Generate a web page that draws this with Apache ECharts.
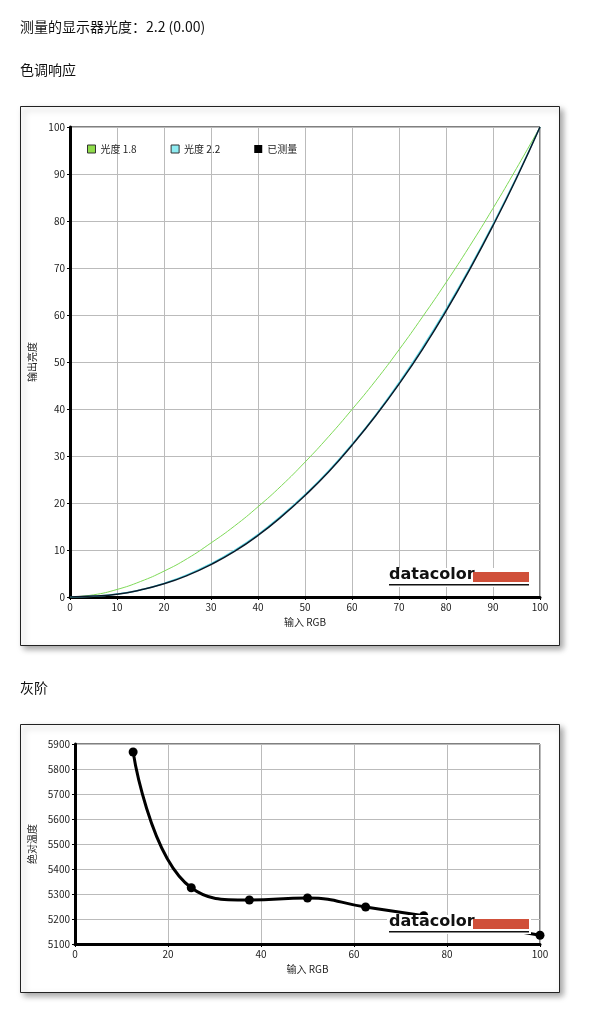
<!DOCTYPE html>
<html><head><meta charset="utf-8">
<script src="https://cdn.jsdelivr.net/npm/echarts@6/dist/echarts.min.js"></script>
<style>
body{margin:0;background:#fff;font-family:"Noto Sans CJK SC",sans-serif;}
#main{position:absolute;left:0;top:0;width:594px;height:1017px;}
</style></head><body>
<div id="main"></div>
<script>
// 色调响应 数据 (输入 RGB 0..100 步长 5)
const inputRGB = [0,5,10,15,20,25,30,35,40,45,50,55,60,65,70,75,80,85,90,95,100]
const gamma18 = [0,0.46,1.6,3.3,5.5,8.2,11.5,15.1,19.2,23.7,28.7,34.1,39.9,46.0,52.6,59.6,66.9,74.6,82.7,91.2,100]
const gamma22 = [0,0.14,0.63,1.5,2.9,4.75,7.1,9.9,13.3,17.3,21.8,26.8,32.5,38.7,45.6,53.1,61.2,69.9,79.3,89.3,100]
const measured = [0,0.2,0.6,1.5,2.8,4.6,6.9,9.7,13.1,17.1,21.6,26.6,32.3,38.5,45.3,52.7,60.8,69.6,79.0,89.1,100]
// 灰阶 数据
const grayRGB = [12.5,25,37.5,50,62.5,75,87.5,100]
const grayTemp = [5868,5325,5276,5284,5248,5213,5175,5135]

const zip = (xs, ys) => xs.map((x, i) => [x, ys[i]])
const txt = '#222'
const fontFam = '"Noto Sans CJK SC", sans-serif'

const logo = (x, y) => [
	{type:'rect', left:x-2, top:y+1, shape:{width:144, height:19}, style:{fill:'#fff'}, z:10},
	{type:'text', left:x, top:y, style:{text:'datacolor', font:'bold 16px "DejaVu Sans", sans-serif', fill:'#111'}, z:11},
	{type:'rect', left:x+84, top:y+5, shape:{width:56, height:10}, style:{fill:'#d0503a'}, z:11},
	{type:'rect', left:x, top:y+17, shape:{width:140, height:1.5}, style:{fill:'#111'}, z:11}
]

const panel = (x, y, w, h) => ({
	type:'rect', left:x, top:y, shape:{width:w, height:h},
	style:{fill:'#fff', stroke:'#222', lineWidth:1, shadowBlur:6, shadowOffsetX:3, shadowOffsetY:3, shadowColor:'rgba(0,0,0,0.35)'}, z:-1
})

const xAxisBase = (gi, step) => ({
	type:'value', gridIndex:gi, min:0, max:100, interval:step,
	axisLine:{onZero:false, lineStyle:{color:'#000', width:3}},
	axisTick:{show:true, length:3, lineStyle:{color:'#000'}},
	axisLabel:{color:txt, fontSize:10, fontFamily:fontFam, margin:5},
	splitLine:{lineStyle:{color:'#bbb'}},
	name:'输入 RGB', nameLocation:'middle', nameGap:20,
	nameTextStyle:{color:txt, fontSize:10, fontFamily:fontFam}
})

const chart = echarts.init(document.getElementById('main'))
chart.setOption({
	animation:false,
	graphic:[
		{type:'text', left:20, top:20, style:{text:'测量的显示器光度：2.2 (0.00)', font:'14px '+fontFam, fill:'#111'}},
		{type:'text', left:20, top:63, style:{text:'色调响应', font:'14px '+fontFam, fill:'#111'}},
		{type:'text', left:20, top:681, style:{text:'灰阶', font:'14px '+fontFam, fill:'#111'}},
		panel(20, 106, 539, 539),
		panel(20, 724, 539, 268),
		...logo(389, 567),
		...logo(389, 914)
	],
	legend:{
		left:82, top:139, itemWidth:8, itemHeight:8, itemGap:34, icon:'rect',
		textStyle:{color:txt, fontSize:10, fontFamily:fontFam},
		data:[
			{name:'光度 1.8', itemStyle:{color:'#8fdc4a', borderColor:'#333', borderWidth:1}},
			{name:'光度 2.2', itemStyle:{color:'#8eecf2', borderColor:'#333', borderWidth:1}},
			{name:'已测量', itemStyle:{color:'#000'}}
		]
	},
	grid:[
		{left:70, top:127, width:470, height:470, show:true, borderColor:'#000', borderWidth:1},
		{left:75, top:744, width:465, height:200, show:true, borderColor:'#000', borderWidth:1}
	],
	xAxis:[xAxisBase(0, 10), xAxisBase(1, 20)],
	yAxis:[
		{type:'value', gridIndex:0, min:0, max:100, interval:10,
			axisLine:{show:true, lineStyle:{color:'#000', width:3}},
			axisTick:{show:true, length:3, lineStyle:{color:'#000'}},
			axisLabel:{color:txt, fontSize:10, fontFamily:fontFam, margin:5},
			splitLine:{lineStyle:{color:'#bbb'}},
			name:'输出亮度', nameLocation:'middle', nameGap:28,
			nameTextStyle:{color:txt, fontSize:10, fontFamily:fontFam}},
		{type:'value', gridIndex:1, min:5100, max:5900, interval:100,
			axisLine:{show:true, lineStyle:{color:'#000', width:3}},
			axisTick:{show:true, length:3, lineStyle:{color:'#000'}},
			axisLabel:{color:txt, fontSize:10, fontFamily:fontFam, margin:5, formatter:v => String(v)},
			splitLine:{lineStyle:{color:'#bbb'}},
			name:'绝对温度', nameLocation:'middle', nameGap:35,
			nameTextStyle:{color:txt, fontSize:10, fontFamily:fontFam}}
	],
	series:[
		{name:'光度 1.8', type:'line', smooth:true, symbol:'none', data:zip(inputRGB, gamma18),
			lineStyle:{color:'#7ed957', width:1}, itemStyle:{color:'#8fdc4a'}},
		{name:'光度 2.2', type:'line', smooth:true, symbol:'none', data:zip(inputRGB, gamma22),
			lineStyle:{color:'#5fd8e6', width:1.5}, itemStyle:{color:'#8eecf2'}},
		{name:'已测量', type:'line', smooth:true, symbol:'none', data:zip(inputRGB, measured),
			lineStyle:{color:'#0a1a2a', width:1.5}, itemStyle:{color:'#000'}},
		{name:'灰阶', type:'line', xAxisIndex:1, yAxisIndex:1, smooth:0.5, symbol:'circle', symbolSize:9,
			data:zip(grayRGB, grayTemp), lineStyle:{color:'#000', width:3}, itemStyle:{color:'#000'}, z:5}
	]
})
</script>
</body></html>
